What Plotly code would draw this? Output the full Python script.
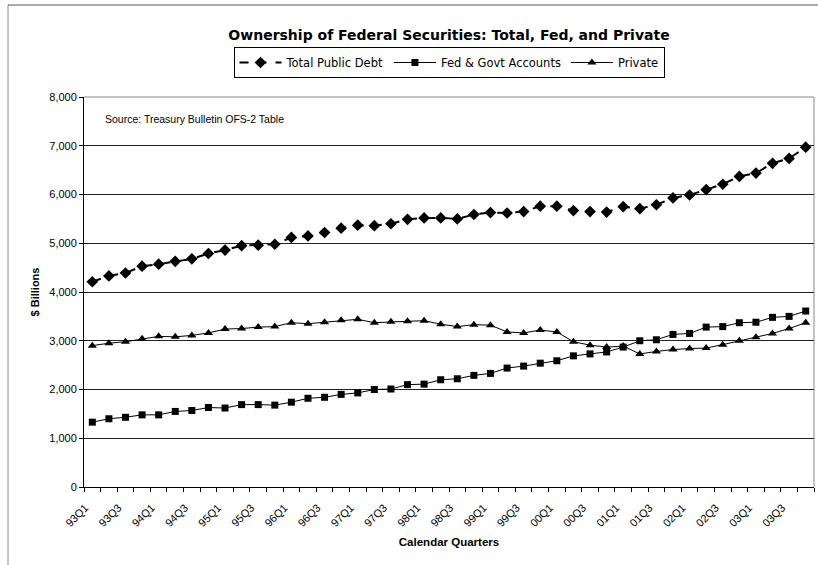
import plotly.graph_objects as go

quarters = [f"{y:02d}Q{q}" for y in list(range(93, 100)) + list(range(0, 4)) for q in range(1, 5)]

total_public_debt = [4210, 4330, 4390, 4530, 4570, 4630, 4680, 4790, 4860, 4950, 4960, 4980,
                     5120, 5150, 5220, 5310, 5370, 5360, 5400, 5490, 5520, 5520, 5500, 5590,
                     5630, 5620, 5650, 5760, 5760, 5670, 5650, 5640, 5750, 5710, 5790, 5930,
                     5990, 6100, 6210, 6370, 6440, 6640, 6740, 6970]
fed_govt_accounts = [1330, 1400, 1430, 1480, 1480, 1550, 1570, 1630, 1620, 1690, 1690, 1680,
                     1740, 1820, 1840, 1900, 1930, 2000, 2010, 2100, 2110, 2200, 2220, 2290,
                     2330, 2440, 2480, 2540, 2590, 2690, 2730, 2770, 2870, 3000, 3020, 3130,
                     3150, 3280, 3290, 3370, 3380, 3480, 3500, 3610]
private = [2900, 2950, 2980, 3040, 3090, 3080, 3110, 3160, 3240, 3250, 3280, 3290,
           3370, 3350, 3380, 3420, 3440, 3370, 3390, 3400, 3410, 3340, 3290, 3330,
           3320, 3180, 3160, 3220, 3180, 2980, 2910, 2870, 2890, 2730, 2780, 2820,
           2840, 2850, 2920, 3000, 3070, 3150, 3250, 3370]

idx = list(range(len(quarters)))
FONT = "Liberation Sans, Arial, sans-serif"
WIDE = "DejaVu Sans, Liberation Sans, sans-serif"

fig = go.Figure()
fig.add_trace(go.Scatter(x=idx, y=total_public_debt, name="Total Public Debt", mode="lines+markers",
                         line=dict(color="black", width=2, dash="dash"),
                         marker=dict(symbol="diamond", size=9, color="black")))
fig.add_trace(go.Scatter(x=idx, y=fed_govt_accounts, name="Fed & Govt Accounts", mode="lines+markers",
                         line=dict(color="black", width=1),
                         marker=dict(symbol="square", size=7, color="black")))
fig.add_trace(go.Scatter(x=idx, y=private, name="Private", mode="lines+markers",
                         line=dict(color="black", width=1),
                         marker=dict(symbol="triangle-up", size=8, color="black")))

L, R, T, B = 84, 4, 97, 78
W, H = 818, 565
pw = W - L - R
ph = H - T - B

fig.update_layout(
    width=W, height=H,
    margin=dict(l=L, r=R, t=T, b=B, pad=0),
    paper_bgcolor="white", plot_bgcolor="white",
    font=dict(family=FONT, size=11, color="black"),
    title=dict(text="<b>Ownership of Federal Securities: Total, Fed, and Private</b>",
               x=(L + pw / 2) / W, xanchor="center", y=1 - 35 / H, yanchor="middle",
               font=dict(size=14, family=WIDE)),
    showlegend=True,
    legend=dict(orientation="h", x=0.5, xref="paper", xanchor="center",
                y=1 + (97 - 47) / ph, yanchor="top",
                bordercolor="black", borderwidth=1, bgcolor="white",
                font=dict(size=11.5, family=WIDE), itemwidth=42,
                tracegroupgap=0),
    xaxis=dict(range=[-0.5, len(quarters) - 0.5], tickmode="array",
               tickvals=idx[::2], ticktext=quarters[::2], tickangle=-45,
               ticks="outside", ticklen=9, tickcolor="rgba(0,0,0,0)",
               ticklabelshift=-7,
               showgrid=False, zeroline=False,
               showline=True, linecolor="black", linewidth=1,
               tickfont=dict(size=11),
               minor=dict(tickmode="linear", tick0=-0.5, dtick=1, ticks="outside",
                          ticklen=4, tickcolor="black", showgrid=False),
               title=dict(text="<b>Calendar Quarters</b>", font=dict(size=11.5), standoff=9)),
    yaxis=dict(range=[0, 8000], dtick=1000, tickformat=",", ticks="outside", ticklen=4,
               tickcolor="black", showgrid=True, gridcolor="#222", gridwidth=1,
               zeroline=False, showline=True, linecolor="black", linewidth=1,
               tickfont=dict(size=11),
               title=dict(text="<b>$ Billions</b>", font=dict(size=11), standoff=7)),
    annotations=[dict(text="Source: Treasury Bulletin OFS-2 Table", xref="paper", yref="paper",
                      x=(103 - L) / pw, y=(487 - 119) / ph, xanchor="left", yanchor="middle",
                      showarrow=False, font=dict(size=10.5, family=FONT))],
    shapes=[
        dict(type="line", xref="paper", yref="paper", x0=0, x1=1, y0=1, y1=1,
             line=dict(color="#888", width=1), layer="below"),
        dict(type="line", xref="paper", yref="paper", x0=1, x1=1, y0=0, y1=1,
             line=dict(color="#888", width=1), layer="below"),
        dict(type="line", xref="paper", yref="paper", x0=(8 - L) / pw, x1=(8 - L) / pw,
             y0=(487 - 565) / ph, y1=(487 - 5) / ph, line=dict(color="#888", width=1)),
        dict(type="line", xref="paper", yref="paper", x0=(8 - L) / pw, x1=1.01,
             y0=(487 - 5) / ph, y1=(487 - 5) / ph, line=dict(color="#555", width=1)),
    ],
)

fig.write_html("out.html")
